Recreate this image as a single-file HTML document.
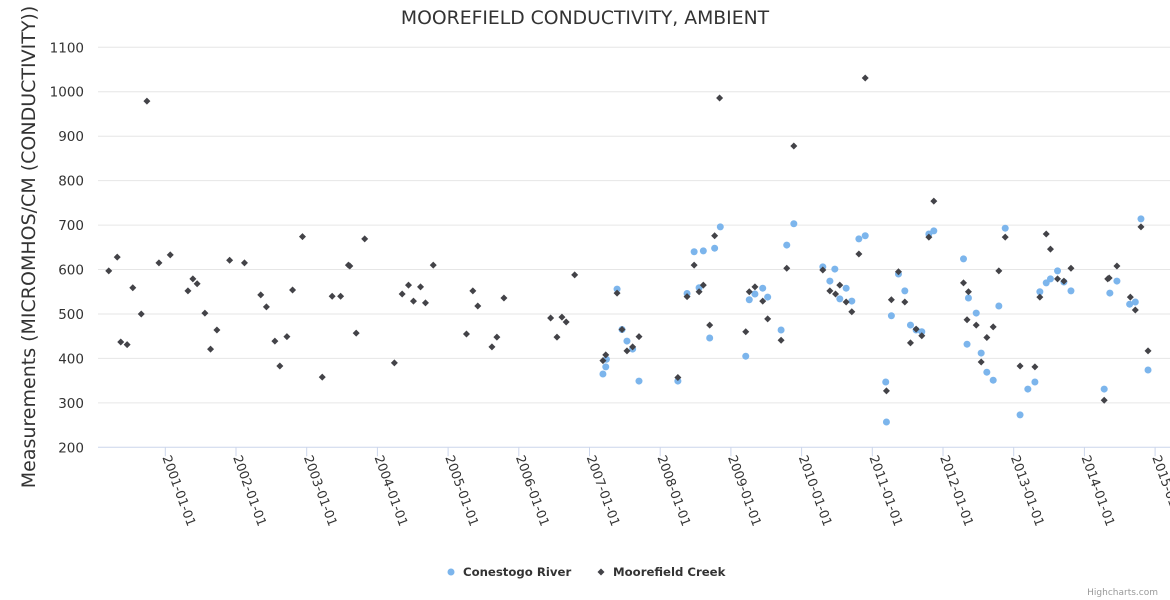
<!DOCTYPE html>
<html><head><meta charset="utf-8"><style>
html,body{margin:0;padding:0;background:#fff;}
svg{display:block;font-family:"DejaVu Sans","Liberation Sans",sans-serif;}
</style></head><body>
<svg id="chart" width="1170" height="600" xmlns="http://www.w3.org/2000/svg">
<text x="585" y="24" text-anchor="middle" font-size="18.8" fill="#333">MOOREFIELD CONDUCTIVITY, AMBIENT</text>
<text transform="translate(35,247) rotate(-90)" text-anchor="middle" font-size="19" fill="#333">Measurements (MICROMHOS/CM (CONDUCTIVITY))</text>
<g id="grid"></g><g id="xaxis"></g><g id="series"></g>
<g>
<g><circle cx="451" cy="572" r="3.5" fill="#7cb5ec"/><text x="463" y="576" font-size="11.7" font-weight="bold" fill="#333">Conestogo River</text></g>
<g><path d="M601 568.5 L604.5 572 L601 575.5 L597.5 572 Z" fill="#434348"/><text x="613" y="576" font-size="11.7" font-weight="bold" fill="#333">Moorefield Creek</text></g>
</g>
<text x="1158" y="595" text-anchor="end" font-size="9" fill="#999">Highcharts.com</text>
</svg>
<script>
const yTicks=[200,300,400,500,600,700,800,900,1000,1100];
const xTickYears=[2001,2002,2003,2004,2005,2006,2007,2008,2009,2010,2011,2012,2013,2014,2015];
const conestogoDates=[2007.19,2007.23,2007.24,2007.39,2007.46,2007.53,2007.61,2007.70,2008.25,2008.38,2008.48,2008.55,2008.61,2008.70,2008.77,2008.85,2009.21,2009.26,2009.34,2009.45,2009.52,2009.71,2009.79,2009.89,2010.30,2010.40,2010.47,2010.54,2010.63,2010.71,2010.81,2010.90,2011.19,2011.20,2011.27,2011.37,2011.46,2011.54,2011.62,2011.70,2011.80,2011.87,2012.29,2012.36,2012.34,2012.47,2012.54,2012.62,2012.71,2012.79,2012.88,2013.09,2013.20,2013.30,2013.37,2013.46,2013.52,2013.62,2013.71,2013.81,2014.28,2014.36,2014.46,2014.64,2014.72,2014.80,2014.90];
const conestogoValues=[365,381,398,556,465,439,421,349,349,546,640,559,642,446,648,696,405,532,545,558,538,464,655,703,606,574,601,534,558,529,669,676,347,257,496,590,552,475,464,460,680,687,624,536,432,502,412,369,351,518,693,273,331,347,550,570,579,597,572,552,331,547,574,522,527,714,374];
const moorefieldDates=[2000.20,2000.32,2000.37,2000.46,2000.54,2000.66,2000.74,2000.91,2001.07,2001.32,2001.39,2001.45,2001.56,2001.64,2001.73,2001.91,2002.12,2002.35,2002.43,2002.55,2002.62,2002.72,2002.80,2002.94,2003.22,2003.36,2003.48,2003.59,2003.61,2003.70,2003.82,2004.24,2004.35,2004.44,2004.51,2004.61,2004.68,2004.79,2005.26,2005.35,2005.42,2005.62,2005.69,2005.79,2006.45,2006.54,2006.61,2006.67,2006.79,2007.19,2007.23,2007.39,2007.46,2007.53,2007.61,2007.70,2008.25,2008.38,2008.48,2008.55,2008.61,2008.70,2008.77,2008.84,2009.21,2009.26,2009.34,2009.45,2009.52,2009.71,2009.79,2009.89,2010.30,2010.40,2010.48,2010.54,2010.63,2010.71,2010.81,2010.90,2011.20,2011.27,2011.37,2011.46,2011.54,2011.62,2011.70,2011.80,2011.87,2012.29,2012.36,2012.34,2012.47,2012.54,2012.62,2012.71,2012.79,2012.88,2013.09,2013.30,2013.37,2013.46,2013.52,2013.62,2013.71,2013.81,2014.28,2014.33,2014.35,2014.46,2014.65,2014.72,2014.80,2014.90];
const moorefieldValues=[597,628,437,431,559,500,979,615,633,552,579,568,502,421,464,621,615,543,516,439,383,449,554,674,358,540,540,610,608,457,669,390,545,565,529,561,525,610,455,552,518,426,448,536,491,448,493,482,588,395,408,547,465,417,426,449,357,539,610,550,565,475,676,986,460,550,561,529,489,441,603,878,599,552,545,565,527,505,635,1031,327,532,595,527,435,466,451,673,754,570,550,487,475,392,447,471,597,673,383,381,538,680,646,579,574,603,306,579,581,608,538,509,696,417];
const NS='http://www.w3.org/2000/svg';
const L=98,R=1170,T=47.3,B=447.3;
function xs(yr){return 165.3+(yr-2001)*70.7;}
function ys(v){return B-(v-200)/900*(B-T);}
function mk(tag,attrs,parent){const e=document.createElementNS(NS,tag);for(const k in attrs)e.setAttribute(k,attrs[k]);parent.appendChild(e);return e;}
const grid=document.getElementById('grid'),xa=document.getElementById('xaxis'),ser=document.getElementById('series');
yTicks.forEach(v=>{
  const y=ys(v);
  if(v>200){const l=mk('line',{x1:L,x2:R,y1:y,y2:y,stroke:'#e6e6e6','stroke-width':1},grid);
  
  }
  const t=mk('text',{x:84,y:y+5,'text-anchor':'end','font-size':13.5,fill:'#333'},grid);
  t.textContent=v;
  
  
});
const ax=mk('line',{x1:L,x2:R,y1:B,y2:B,stroke:'#ccd6eb','stroke-width':1},xa);


xTickYears.forEach(yr=>{
  const x=xs(yr);
  const tk=mk('line',{x1:x,x2:x,y1:B,y2:B+9,stroke:'#ccd6eb'},xa);
  
  
  const t=mk('text',{x:0,y:0,'font-size':12.8,fill:'#333',transform:'translate('+(x-3)+','+(B+10)+') rotate(70)'},xa);
  t.textContent=yr+'-01-01';
  
  
});
conestogoDates.forEach((d,i)=>{
  const c=mk('circle',{cx:xs(d),cy:ys(conestogoValues[i]),r:3.5,fill:'#7cb5ec'},ser);
  
  
});
moorefieldDates.forEach((d,i)=>{
  const x=xs(d),y=ys(moorefieldValues[i]),s=3.5;
  const p=mk('path',{d:'M'+x+' '+(y-s)+' L'+(x+s)+' '+y+' L'+x+' '+(y+s)+' L'+(x-s)+' '+y+' Z',fill:'#434348'},ser);
  
  
});
</script>
</body></html>
